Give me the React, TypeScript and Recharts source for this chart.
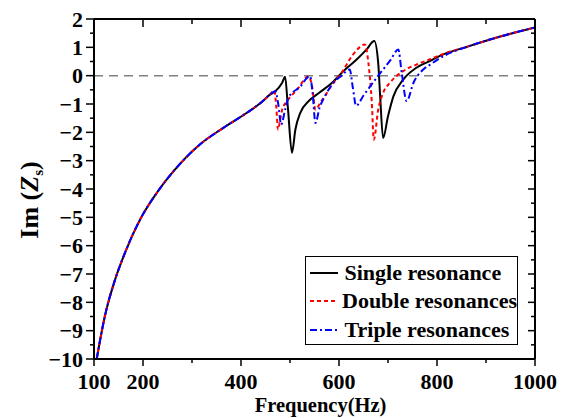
import React from 'react';
import { LineChart, Line, XAxis, YAxis, ReferenceLine, Legend } from 'recharts';

// shared low-frequency branch (all three curves overlap here)
const baseFreq = [105.5, 122, 143, 163, 194, 228, 262, 316, 364, 412, 443, 459];
const baseIm = [-10, -8.5, -7.2, -6.26, -5.08, -4.14, -3.38, -2.43, -1.84, -1.31, -0.92, -0.67];

// shared high-frequency branch
const tailFreq = [867, 929, 1000];
const tailIm = [1.05, 1.38, 1.7];

const singleFreq = [470, 484, 490, 496, 504, 511, 521, 538, 559, 586, 609, 636, 656, 672, 680, 684, 690, 700, 711, 731, 758, 786, 806];
const singleIm = [-0.55, -0.25, -0.04, -1.2, -2.72, -1.9, -1.31, -0.9, -0.61, -0.25, 0.16, 0.57, 0.92, 1.22, 0.45, -0.73, -2.2, -1.43, -0.73, -0.14, 0.28, 0.52, 0.7];

const doubleFreq = [468, 472, 475.5, 480, 484, 494, 515, 538, 545, 552, 562, 571, 586, 605, 629, 653, 660, 667, 671, 680, 690, 704, 731, 758, 786, 806];
const doubleIm = [-0.52, -1.1, -1.9, -1.55, -1.2, -0.9, -0.48, -0.02, -0.37, -1.2, -0.95, -0.73, -0.31, 0.1, 0.75, 1.1, 0.45, -0.96, -2.26, -1.2, -0.61, -0.25, 0.16, 0.39, 0.58, 0.72];

const tripleFreq = [470, 476, 482, 490, 497, 520, 541, 546, 552, 560, 571, 586, 605, 622, 628, 635, 650, 680, 705, 721, 728, 738, 752, 772, 786, 806];
const tripleIm = [-0.55, -1.0, -1.73, -1.2, -0.78, -0.4, -0.02, -0.6, -1.67, -1.15, -0.73, -0.31, 0.0, 0.22, -0.4, -1.06, -0.7, 0.0, 0.55, 0.92, 0.1, -0.9, -0.25, 0.22, 0.39, 0.62];

const xTicks = [100, 200, 300, 400, 500, 600, 700, 800, 900, 1000];
const xLabels = [100, 200, 400, 600, 800, 1000];
const yTicks = [-10, -9.5, -9, -8.5, -8, -7.5, -7, -6.5, -6, -5.5, -5, -4.5, -4, -3.5, -3, -2.5, -2, -1.5, -1, -0.5, 0, 0.5, 1, 1.5, 2];

const FONT = '"Liberation Serif", "Times New Roman", serif';

const toPoints = (f: number[], v: number[]) => f.map((x, i) => ({ f: x, im: v[i] }));
const fullCurve = (f: number[], v: number[]) => [
  ...toPoints(baseFreq, baseIm),
  ...toPoints(f, v),
  ...toPoints(tailFreq, tailIm),
];

const series = [
  { name: 'Single resonance', data: fullCurve(singleFreq, singleIm), color: '#000000', dash: undefined },
  { name: 'Double resonances', data: fullCurve(doubleFreq, doubleIm), color: '#ff0000', dash: '4 3' },
  { name: 'Triple resonances', data: fullCurve(tripleFreq, tripleIm), color: '#0000ff', dash: '7 3 2 3' },
];

const textStyle = { fontFamily: FONT, fontWeight: 'bold' as const, fontSize: 22, fill: '#000' };

const LeftTick = (props: any) => {
  const { x, y, payload } = props;
  const major = Number.isInteger(payload.value);
  return (
    <g>
      <line x1={x} x2={x - (major ? 8 : 4)} y1={y} y2={y} stroke="#000" strokeWidth={1.5} />
      {major && (
        <text x={x - 11} y={y} dy="0.35em" textAnchor="end" {...textStyle}>
          {String(payload.value).replace('-', '\u2212')}
        </text>
      )}
    </g>
  );
};

const RightTick = (props: any) => {
  const { x, y, payload } = props;
  const major = Number.isInteger(payload.value);
  return <line x1={x} x2={x - (major ? 7 : 4)} y1={y} y2={y} stroke="#000" strokeWidth={1.5} />;
};

const BottomTick = (props: any) => {
  const { x, y, payload } = props;
  const major = xLabels.includes(payload.value);
  return (
    <g>
      <line x1={x} x2={x} y1={y} y2={y + (major ? 7 : 4)} stroke="#000" strokeWidth={1.5} />
      {major && (
        <text x={x} y={y + 22} dy="0.35em" textAnchor="middle" {...textStyle}>
          {payload.value}
        </text>
      )}
    </g>
  );
};

const TopTick = (props: any) => {
  const { x, y, payload } = props;
  const major = xLabels.includes(payload.value);
  return <line x1={x} x2={x} y1={y} y2={y + (major ? 8 : 5)} stroke="#000" strokeWidth={1.5} />;
};

const LegendBox = () => (
  <div
    style={{
      border: '1.5px solid #000',
      background: '#fff',
      width: 213,
      height: 89,
      boxSizing: 'border-box',
      padding: '1.5px 0 0 3.5px',
      fontFamily: FONT,
      fontWeight: 'bold',
      fontSize: 22,
      color: '#000',
    }}
  >
    {series.map((s) => (
      <div key={s.name} style={{ display: 'flex', alignItems: 'center', height: 28.5, whiteSpace: 'nowrap' }}>
        <svg width={28} height={10}>
          <line x1={0} x2={28} y1={5} y2={5} stroke={s.color} strokeWidth={2} strokeDasharray={s.dash} />
        </svg>
        <span style={{ marginLeft: 7 }}>{s.name}</span>
      </div>
    ))}
  </div>
);

export default function App() {
  return (
    <div style={{ position: 'absolute', left: 0, top: 0, background: '#fff' }}>
      <LineChart width={561} height={418} margin={{ top: 0, right: 0, bottom: 0, left: 0 }}>
        <XAxis
          dataKey="f"
          type="number"
          domain={[100, 1000]}
          ticks={xTicks}
          interval={0}
          allowDataOverflow
          height={59}
          tickSize={0}
          tickMargin={0}
          tickLine={false}
          axisLine={{ stroke: '#000', strokeWidth: 2 }}
          tick={(p: any) => <BottomTick {...p} />}
          label={({ viewBox }: any) => (
            <text x={viewBox.x + viewBox.width / 2 + 6} y={viewBox.y + 53} textAnchor="middle" {...textStyle} fontSize={20.5}>
              Frequency(Hz)
            </text>
          )}
        />
        <XAxis
          xAxisId="top"
          orientation="top"
          dataKey="f"
          type="number"
          domain={[100, 1000]}
          ticks={xTicks}
          interval={0}
          allowDataOverflow
          height={19}
          tickSize={0}
          tickMargin={0}
          tickLine={false}
          axisLine={{ stroke: '#000', strokeWidth: 2 }}
          tick={(p: any) => <TopTick {...p} />}
        />
        <YAxis
          type="number"
          domain={[-10, 2]}
          ticks={yTicks}
          interval={0}
          allowDataOverflow
          width={94}
          tickSize={0}
          tickMargin={0}
          tickLine={false}
          axisLine={{ stroke: '#000', strokeWidth: 2 }}
          tick={(p: any) => <LeftTick {...p} />}
          label={({ viewBox }: any) => {
            const cx = viewBox.x + 38;
            const cy = viewBox.y + viewBox.height / 2 + 11;
            return (
              <text x={cx} y={cy} textAnchor="middle" transform={`rotate(-90, ${cx}, ${cy})`} {...textStyle} fontSize={26}>
                <tspan>Im (</tspan>
                <tspan fontStyle="italic">Z</tspan>
                <tspan fontSize={15} dy={5}>s</tspan>
                <tspan dy={-5}>)</tspan>
              </text>
            );
          }}
        />
        <YAxis
          yAxisId="right"
          orientation="right"
          type="number"
          domain={[-10, 2]}
          ticks={yTicks}
          interval={0}
          allowDataOverflow
          width={26}
          tickSize={0}
          tickMargin={0}
          tickLine={false}
          axisLine={{ stroke: '#000', strokeWidth: 2 }}
          tick={(p: any) => <RightTick {...p} />}
        />
        <ReferenceLine y={0} stroke="#808080" strokeWidth={1.5} strokeDasharray="9 6" />
        {series.map((s) => (
          <Line
            key={s.name}
            data={s.data}
            dataKey="im"
            name={s.name}
            type="monotone"
            stroke={s.color}
            strokeWidth={2}
            strokeDasharray={s.dash}
            dot={false}
            activeDot={false}
            isAnimationActive={false}
          />
        ))}
        <Legend
          layout="vertical"
          align="center"
          verticalAlign="middle"
          content={() => <LegendBox />}
          wrapperStyle={{ left: 305, top: 256, width: 213, height: 89 }}
        />
      </LineChart>
    </div>
  );
}
